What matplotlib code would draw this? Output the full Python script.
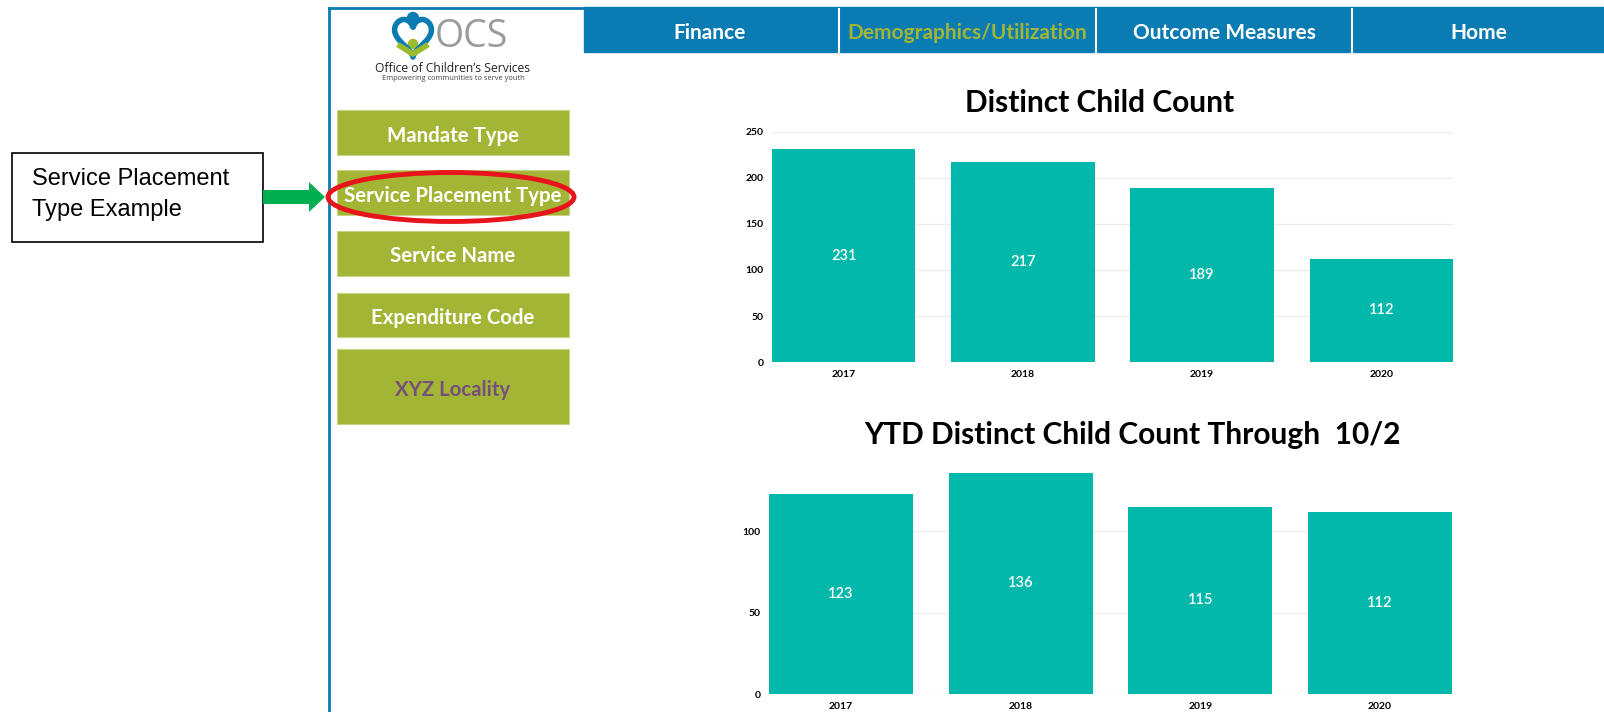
import matplotlib.pyplot as plt
import numpy as np
from matplotlib.patches import Rectangle, Ellipse, FancyArrow, Circle

# chart data
years = ["2017", "2018", "2019", "2020"]
distinct_count = [231, 217, 189, 112]
ytd_count = [123, 136, 115, 112]
ytd_through = "10/2"

# dashboard navigation text
nav_items = ["Finance", "Demographics/Utilization", "Outcome Measures", "Home"]
side_items = ["Mandate Type", "Service Placement Type", "Service Name",
              "Expenditure Code", "XYZ Locality"]
note_lines = ["Service Placement", "Type Example"]

BLUE = "#0b7cb3"
OLIVE = "#a3b534"
TEAL = "#01b8aa"
PURPLE = "#75507b"
GRID = "#ececec"
FONT = "Lato"

fig = plt.figure(figsize=(16.04, 7.12), dpi=100)

# background layer in pixel coordinates (y down)
bg = fig.add_axes([0, 0, 1, 1])
bg.set_xlim(0, 1604)
bg.set_ylim(712, 0)
bg.axis("off")

# panel border
bg.plot([329, 329], [8, 712], color=BLUE, lw=2)
bg.plot([329, 584], [8, 8], color=BLUE, lw=2)

# top navigation bar
bg.add_patch(Rectangle((584, 7), 1604 - 584, 45, color=BLUE))
for x in [839, 1096, 1352]:
    bg.plot([x, x], [9, 52], color="white", lw=1.5)
nav_x = [710, 967, 1224, 1479]
for i, (label, x) in enumerate(zip(nav_items, nav_x)):
    bg.text(x, 33, label, color=OLIVE if i == 1 else "white", ha="center",
            va="center", fontsize=15, fontweight="bold", family=FONT)

# logo
t = np.linspace(0.25, 2 * np.pi - 0.25, 200)
hx = 16 * np.sin(t) ** 3
hy = 13 * np.cos(t) - 5 * np.cos(2 * t) - 2 * np.cos(3 * t) - np.cos(4 * t)
bg.plot(413 + hx * 1.15, 35 - hy * 1.3, color=BLUE, lw=4, solid_capstyle="round")
bg.add_patch(Circle((413, 18), 5.5, color=BLUE))
bg.add_patch(Circle((413, 44), 4.5, color="#9bbb2c"))
bg.plot([400, 413, 426], [46, 54, 46], color="#9bbb2c", lw=4)
bg.text(435, 37, "OCS", color="#9b9b9b", fontsize=27, va="center",
        family="Open Sans")
bg.text(453, 68, "Office of Children\u2019s Services", color="#222222",
        fontsize=8.7, ha="center", va="center", family="Open Sans")
bg.text(453, 79, "Empowering communities to serve youth", color="#444444",
        fontsize=5.4, ha="center", va="center", family="Open Sans")

# sidebar buttons
side_y = [(110, 155), (170, 215), (231, 276), (293, 337), (349, 424)]
for i, (label, (y0, y1)) in enumerate(zip(side_items, side_y)):
    bg.add_patch(Rectangle((337, y0), 232, y1 - y0, facecolor=OLIVE,
                           edgecolor="#c8d38a", lw=0.8))
    bg.text(453, (y0 + y1) / 2 + 3, label, ha="center", va="center",
            color=PURPLE if i == 4 else "white", fontsize=14.7,
            fontweight="bold", family=FONT)

# callout box with arrow and red ellipse
bg.add_patch(Rectangle((12, 153), 251, 89, fill=False, ec="black", lw=1.2))
bg.text(32, 179, note_lines[0], fontsize=17, va="center",
        family="Liberation Sans")
bg.text(32, 210, note_lines[1], fontsize=17, va="center",
        family="Liberation Sans")
bg.add_patch(FancyArrow(263, 197, 62, 0, width=14, head_width=30,
                        head_length=16, length_includes_head=True,
                        color="#00b050", lw=0))
bg.add_patch(Ellipse((451, 197), 246, 49, fill=False, ec="#e8141b", lw=3.5,
                     zorder=5))

# chart titles
bg.text(1100, 103, "Distinct Child Count", ha="center", va="center",
        fontsize=21.5, fontweight="bold", family=FONT)
bg.text(1133, 435, "YTD Distinct Child Count Through  " + ytd_through,
        ha="center", va="center", fontsize=21.5, fontweight="bold", family=FONT)


def bar_chart(rect, values, ylim, yticks):
    ax = fig.add_axes(rect)
    ax.set_facecolor("none")
    bars = ax.bar(range(len(years)), values, width=0.8, color=TEAL, zorder=2)
    ax.bar_label(bars, label_type="center", color="white", fontsize=10.5,
                 family=FONT, fontweight="semibold")
    ax.set_xlim(-0.4, len(years) - 0.6)
    ax.set_ylim(*ylim)
    ax.set_yticks(yticks)
    ax.set_xticks(range(len(years)))
    ax.set_xticklabels(years)
    ax.grid(axis="y", color=GRID, lw=1, zorder=0)
    for s in ax.spines.values():
        s.set_visible(False)
    ax.tick_params(length=0, labelsize=7.5, pad=6)
    for lab in ax.get_xticklabels() + ax.get_yticklabels():
        lab.set_fontweight("bold")
        lab.set_family(FONT)
    return ax


bar_chart([772 / 1604, 1 - 362 / 712, (1453 - 772) / 1604, (362 - 132) / 712],
          distinct_count, (0, 250), [0, 50, 100, 150, 200, 250])
bar_chart([769 / 1604, 1 - 694 / 712, (1452 - 769) / 1604, (694 - 466) / 712],
          ytd_count, (0, 140), [0, 50, 100])

fig.savefig("out.png", dpi=100)
